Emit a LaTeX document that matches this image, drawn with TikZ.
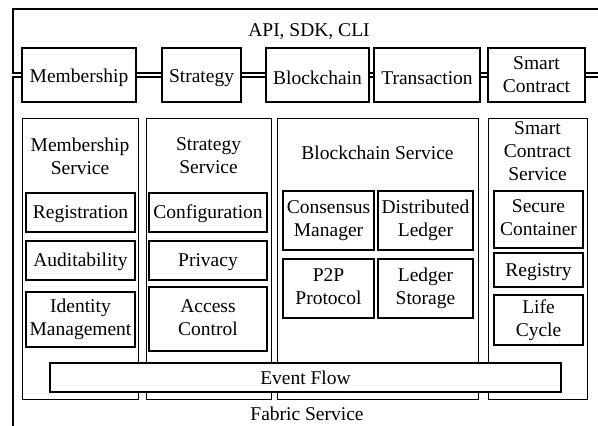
\documentclass[tikz,border=0pt]{standalone}
\usepackage{fontspec}
\setmainfont{Liberation Serif}
\newcommand{\stt}{\rule[-3pt]{0pt}{19.9pt}}
\newcommand{\sttop}{\rule[-0.5pt]{0pt}{20.4pt}}
\begin{document}
\begin{tikzpicture}[x=1pt,y=-1pt,
  every node/.style={font=\fontsize{19.5}{23}\selectfont, align=center, inner sep=0pt},
  txt/.style={execute at begin node=\stt, execute at end node=\stt},
  topbox/.style={draw, line width=1.2pt, fill=white, execute at begin node=\sttop, execute at end node=\sttop},
  colbox/.style={draw, line width=0.8pt},
  inbox/.style={draw, line width=1.4pt, fill=white, txt},
  frame/.style={line width=1.2pt},
  bus/.style={line width=1.1pt}]
\useasboundingbox (0,0) rectangle (598,426);
% frame coordinates
\coordinate (tl) at (13,9);
\coordinate (tr) at (598,9);
\coordinate (bl) at (13,426);
\coordinate (re) at (598,75);
\node[txt] (api) at (309,30) {API, SDK, CLI};
% top boxes
\node[topbox, minimum width=114, minimum height=54] (mem) at (79,75) {Membership};
\node[topbox, minimum width=79, minimum height=54] (str) at (201.5,75) {Strategy};
\node[topbox, minimum width=103, minimum height=54] (blk) at (317.5,75) {Blockchain};
\node[topbox, minimum width=106, minimum height=54] (trn) at (427,75) {Transaction};
\node[topbox, minimum width=97, minimum height=54] (sc) at (536.5,75) {Smart\\Contract};
% frame and bus
\draw[frame] (tr) -- (tl) |- ([yshift=2pt]mem.west);
\draw[frame] ([yshift=-2pt]mem.west) -| (bl);
\foreach \a/\b in {mem/str, str/blk, blk/trn, trn/sc}{
  \draw[bus] ([yshift=2pt]\a.east) -- ([yshift=2pt]\b.west);
  \draw[bus] ([yshift=-2pt]\a.east) -- ([yshift=-2pt]\b.west);
}
\draw[bus] ([yshift=2pt]sc.east) -- ([yshift=2pt]re);
\draw[bus] ([yshift=-2pt]sc.east) -- ([yshift=-2pt]re);
% columns
\node[colbox, minimum width=116, minimum height=281] (c1) at (80,258.5) {};
\node[colbox, minimum width=125, minimum height=281] (c2) at (208.5,258.5) {};
\node[colbox, minimum width=201, minimum height=281] (c3) at (377.5,258.5) {};
\node[colbox, minimum width=99, minimum height=281] (c4) at (537.5,258.5) {};
% column titles
\node[txt] (t1) at (80,157.5) {Membership\\Service};
\node[txt] (t2) at (208.5,157.5) {Strategy\\Service};
\node[txt] (t3) at (377.5,153) {Blockchain Service};
\node[txt] (t4) at (537.5,153) {Smart\\Contract\\Service};
% membership
\node[inbox, minimum width=109, minimum height=39] (reg) at (80.5,212.5) {Registration};
\node[inbox, minimum width=109, minimum height=39] (aud) at (80.5,260.5) {Auditability};
\node[inbox, minimum width=109, minimum height=55] (idm) at (80.5,319.5) {Identity\\Management};
% strategy
\node[inbox, minimum width=118, minimum height=39] (cfg) at (208,212.5) {Configuration};
\node[inbox, minimum width=118, minimum height=39] (prv) at (208,260.5) {Privacy};
\node[inbox, minimum width=118, minimum height=64] (acc) at (208,319) {Access\\Control};
% blockchain
\node[inbox, minimum width=91, minimum height=59] (cons) at (328.5,220.5) {Consensus\\Manager};
\node[inbox, minimum width=95, minimum height=59] (dl) at (425.5,220.5) {Distributed\\Ledger};
\node[inbox, minimum width=91, minimum height=59] (p2p) at (328.5,288.5) {P2P\\Protocol};
\node[inbox, minimum width=95, minimum height=59] (ls) at (425.5,288.5) {Ledger\\Storage};
% smart contract
\node[inbox, minimum width=89, minimum height=57] (sec) at (538.5,219.5) {Secure\\Container};
\node[inbox, minimum width=89, minimum height=34] (rgy) at (538.5,270) {Registry};
\node[inbox, minimum width=89, minimum height=50] (lc) at (538.5,320) {Life\\Cycle};
% event flow
\node[inbox, minimum width=511, minimum height=29] (ev) at (305.5,377.5) {Event Flow};
\node[txt] (fab) at (307,413.5) {Fabric Service};
\end{tikzpicture}
\end{document}
